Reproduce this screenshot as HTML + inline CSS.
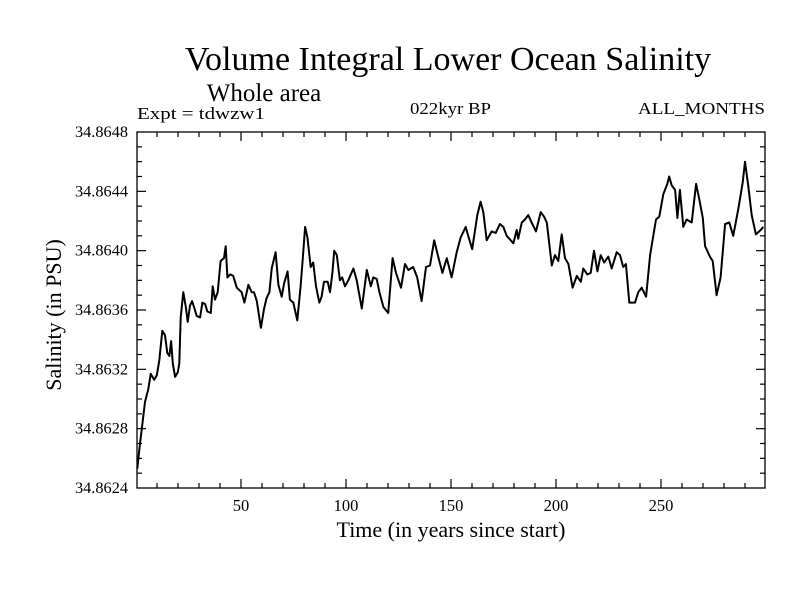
<!DOCTYPE html>
<html><head><meta charset="utf-8"><style>
body{margin:0;background:#fff;}
svg{display:block;font-family:"Liberation Serif",serif;}
</style></head><body>
<svg id="chart" width="800" height="600" viewBox="0 0 800 600" xmlns="http://www.w3.org/2000/svg">
<rect width="800" height="600" fill="#fff"/>
<text x="448" y="70" font-size="34" text-anchor="middle">Volume Integral Lower Ocean Salinity</text>
<text x="264" y="101" font-size="25" text-anchor="middle">Whole area</text>
<text x="137" y="119" font-size="17" textLength="128" lengthAdjust="spacingAndGlyphs">Expt = tdwzw1</text>
<text x="410" y="114" font-size="17" textLength="81" lengthAdjust="spacingAndGlyphs">022kyr BP</text>
<text x="638" y="114" font-size="17" textLength="127" lengthAdjust="spacingAndGlyphs">ALL_MONTHS</text>
<text transform="translate(61,315) rotate(-90)" font-size="22" text-anchor="middle">Salinity (in PSU)</text>
<text x="451" y="537" font-size="22" text-anchor="middle">Time (in years since start)</text>
<g id="axes"></g>
<g id="series"></g>
</svg>
<script>
const years=[0.6,1.9,3.2,4.3,5.9,7.0,8.6,9.9,11.1,12.5,13.8,14.9,15.9,16.7,17.5,18.6,19.9,20.6,21.3,22.5,23.7,24.6,25.7,26.7,27.6,28.9,30.5,31.6,32.9,34.0,35.6,36.5,37.6,38.9,40.3,41.9,42.7,43.5,44.8,46.3,48.0,50.3,51.6,53.5,55.1,56.2,57.5,59.5,61.0,62.2,63.5,64.6,66.5,67.8,69.4,70.5,72.2,73.3,74.9,76.8,78.4,79.4,80.5,81.6,83.2,84.4,85.7,87.3,88.4,89.5,91.3,92.4,93.5,94.4,95.6,97.1,98.2,99.5,101.1,103.5,105.1,107.5,109.9,111.8,113.0,114.6,115.9,117.8,120.1,122.2,123.8,126.2,128.1,129.7,132.0,133.9,136.0,138.1,140.0,142.0,143.7,145.9,148.0,150.3,152.7,154.6,157.0,158.2,160.1,162.5,164.1,165.4,167.0,169.4,171.3,173.3,174.9,176.5,179.7,181.3,182.0,183.7,185.2,186.8,188.4,190.5,192.7,194.3,195.6,198.0,199.5,201.1,202.7,204.3,205.9,207.9,209.9,211.8,213.0,214.9,216.5,218.1,219.7,221.3,222.9,224.9,226.5,228.9,230.5,232.0,233.3,234.9,237.6,239.2,240.8,242.9,244.8,247.6,249.2,251.1,253.0,253.9,255.1,256.7,257.8,259.0,260.6,262.2,264.6,266.7,268.2,269.9,271.0,273.3,274.6,276.5,278.4,280.5,282.5,284.4,286.8,288.9,290.0,291.6,293.2,295.2,297.5,298.7];
const salinity=[34.86253,34.86270,34.86285,34.86298,34.86307,34.86317,34.86313,34.86316,34.86326,34.86346,34.86343,34.86331,34.86329,34.86339,34.86324,34.86315,34.86318,34.86324,34.86355,34.86372,34.86362,34.86352,34.86363,34.86366,34.86362,34.86356,34.86355,34.86365,34.86364,34.86359,34.86358,34.86376,34.86367,34.86372,34.86393,34.86395,34.86403,34.86382,34.86384,34.86383,34.86375,34.86372,34.86365,34.86377,34.86372,34.86372,34.86366,34.86348,34.86361,34.86368,34.86372,34.86388,34.86399,34.86377,34.86369,34.86378,34.86386,34.86367,34.86365,34.86353,34.86376,34.86394,34.86416,34.86409,34.86389,34.86392,34.86376,34.86365,34.86369,34.86379,34.86379,34.86372,34.86385,34.86400,34.86397,34.86380,34.86382,34.86376,34.86380,34.86388,34.86380,34.86361,34.86387,34.86376,34.86382,34.86381,34.86372,34.86362,34.86358,34.86395,34.86385,34.86375,34.86391,34.86387,34.86389,34.86382,34.86366,34.86389,34.86390,34.86407,34.86397,34.86385,34.86395,34.86382,34.86399,34.86409,34.86416,34.86410,34.86401,34.86424,34.86433,34.86426,34.86407,34.86413,34.86412,34.86418,34.86416,34.86410,34.86405,34.86414,34.86408,34.86419,34.86421,34.86424,34.86419,34.86413,34.86426,34.86423,34.86419,34.86390,34.86397,34.86393,34.86411,34.86395,34.86391,34.86375,34.86383,34.86379,34.86388,34.86384,34.86385,34.86400,34.86386,34.86397,34.86392,34.86396,34.86388,34.86399,34.86397,34.86389,34.86391,34.86365,34.86365,34.86372,34.86375,34.86369,34.86397,34.86421,34.86423,34.86438,34.86445,34.86450,34.86444,34.86441,34.86422,34.86441,34.86416,34.86421,34.86419,34.86445,34.86435,34.86422,34.86403,34.86396,34.86393,34.86370,34.86382,34.86418,34.86419,34.86410,34.86428,34.86446,34.86460,34.86443,34.86424,34.86411,34.86414,34.86416];
const xTickLabels=[50,100,150,200,250];
const yTickLabels=["34.8624","34.8628","34.8632","34.8636","34.8640","34.8644","34.8648"];

const L=137,R=765,T=132,B=488;
const X0=136,PXY=2.1;
const YMIN=34.8624,YMAX=34.8648;
function xs(v){return X0+v*PXY;}
function ys(v){return B-(v-YMIN)/(YMAX-YMIN)*(B-T);}
const NS="http://www.w3.org/2000/svg";
const axes=document.getElementById('axes');
function mk(tag,attrs,parent){const e=document.createElementNS(NS,tag);for(const k in attrs)e.setAttribute(k,attrs[k]);parent.appendChild(e);return e;}
const frame=mk('rect',{x:L,y:T,width:R-L,height:B-T,fill:'none',stroke:'#000','stroke-width':1.3},axes);


for(let v=10;v<300;v+=10){
  const major=v%50===0,len=major?9:5,x=xs(v);
  const t1=mk('line',{x1:x,x2:x,y1:B,y2:B-len,stroke:'#000','stroke-width':1.2},axes);
  
  
  const t2=mk('line',{x1:x,x2:x,y1:T,y2:T+len,stroke:'#000','stroke-width':1.2},axes);
  
  
}
xTickLabels.forEach(v=>{
  const t=mk('text',{x:xs(v),y:511,'font-size':16.5,'text-anchor':'middle'},axes);
  t.textContent=v;
  
  
});
for(let i=1;i<24;i++){
  const v=YMIN+i*0.0001,major=i%4===0,len=major?9:5,y=ys(v);
  const t1=mk('line',{x1:L,x2:L+len,y1:y,y2:y,stroke:'#000','stroke-width':1.2},axes);
  
  
  const t2=mk('line',{x1:R,x2:R-len,y1:y,y2:y,stroke:'#000','stroke-width':1.2},axes);
  
  
}
yTickLabels.forEach(s=>{
  const t=mk('text',{x:75,y:ys(parseFloat(s))+5,'font-size':16,textLength:53,lengthAdjust:'spacingAndGlyphs'},axes);
  t.textContent=s;
  
  
});
const pts=years.map((yr,i)=>xs(yr).toFixed(1)+','+ys(salinity[i]).toFixed(1)).join(' ');
const line=mk('polyline',{points:pts,fill:'none',stroke:'#000','stroke-width':2,'stroke-linejoin':'round'},document.getElementById('series'));


</script>
</body></html>
